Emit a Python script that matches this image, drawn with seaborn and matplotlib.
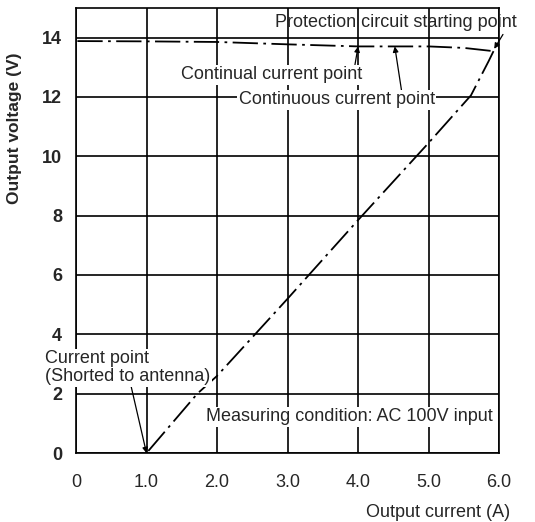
import matplotlib
matplotlib.use("Agg")
from matplotlib import pyplot as plt
import pandas as pd
import seaborn as sns

# curva superior (tensao quase constante)
corrente_sup = [0.02, 1.0, 2.0, 3.0, 4.0, 5.0, 5.5, 5.92]
tensao_sup = [13.88, 13.87, 13.85, 13.77, 13.7, 13.7, 13.65, 13.54]

# curva de retorno (protecao ate o curto)
corrente_inf = [5.92, 5.85, 5.6, 5.0, 4.0, 3.0, 2.0, 1.72, 1.0]
tensao_inf = [13.54, 13.2, 12.05, 10.45, 7.85, 5.2, 2.6, 2.0, 0.0]

xticks = [0, 1, 2, 3, 4, 5, 6]
xtick_labels = ["0", "1.0", "2.0", "3.0", "4.0", "5.0", "6.0"]
yticks = [0, 2, 4, 6, 8, 10, 12, 14]

sup = pd.DataFrame({"corrente": corrente_sup, "tensao": tensao_sup})
inf = pd.DataFrame({"corrente": corrente_inf, "tensao": tensao_inf})

sns.set_style("white")
plt.rcParams["font.family"] = ["Liberation Sans", "DejaVu Sans"]

fig = plt.figure(figsize=(5.35, 5.22), dpi=100)
ax = fig.add_axes([0.142, 0.132, 0.791, 0.853])

estilo = (0, (14, 3, 1.5, 3))
sns.lineplot(data=sup, x="corrente", y="tensao", sort=False, ax=ax,
             color="black", lw=1.3, linestyle=estilo)
sns.lineplot(data=inf, x="corrente", y="tensao", sort=False, ax=ax,
             color="black", lw=1.3, linestyle=estilo)

ax.set_xlim(0, 6)
ax.set_ylim(0, 15)
ax.set_xticks(xticks)
ax.set_xticklabels(xtick_labels)
ax.set_yticks(yticks)
ax.tick_params(axis="x", length=0, labelsize=13, pad=15)
ax.tick_params(axis="y", length=0, labelsize=13, pad=10)
for t in ax.get_yticklabels():
    t.set_fontweight("bold")
ax.grid(True, color="black", lw=1.2)
ax.set_axisbelow(True)
for s in ax.spines.values():
    s.set_color("black")
    s.set_linewidth(1.2)
    s.set_visible(True)

ax.set_xlabel("")
ax.set_ylabel("Output voltage (V)", fontsize=12.5, fontweight="bold")
ax.yaxis.set_label_coords(-0.128, 0.73)
fig.text(0.953, 0.019, "Output current (A)", fontsize=13, ha="right", va="center")

caixa = dict(facecolor="white", edgecolor="none", pad=1.0)
seta = dict(arrowstyle="-|>", color="black", lw=0.9, shrinkA=0, shrinkB=0,
            mutation_scale=8)

ax.annotate("Protection circuit starting point", xy=(5.93, 13.62), xytext=(4.54, 14.5),
            fontsize=13, ha="center", va="center", annotation_clip=False,
            arrowprops=dict(seta, relpos=(0.95, 0.0)))
ax.annotate("Continual current point", xy=(4.0, 13.7), xytext=(2.77, 12.75),
            fontsize=13, ha="center", va="center", bbox=caixa,
            arrowprops=dict(seta, relpos=(0.96, 1.0)))
ax.annotate("Continuous current point", xy=(4.52, 13.7), xytext=(3.7, 11.9),
            fontsize=13, ha="center", va="center", bbox=caixa,
            arrowprops=dict(seta, relpos=(0.83, 1.0)))
ax.annotate("Current point\n(Shorted to antenna)", xy=(1.0, 0.0), xytext=(-0.44, 2.88),
            fontsize=13, ha="left", va="center", annotation_clip=False,
            linespacing=1.1, bbox=caixa,
            arrowprops=dict(seta, relpos=(0.52, 0.0)))
ax.text(3.87, 1.22, "Measuring condition: AC 100V input", fontsize=13,
        ha="center", va="center", bbox=caixa)

fig.savefig("out.png", dpi=100)
